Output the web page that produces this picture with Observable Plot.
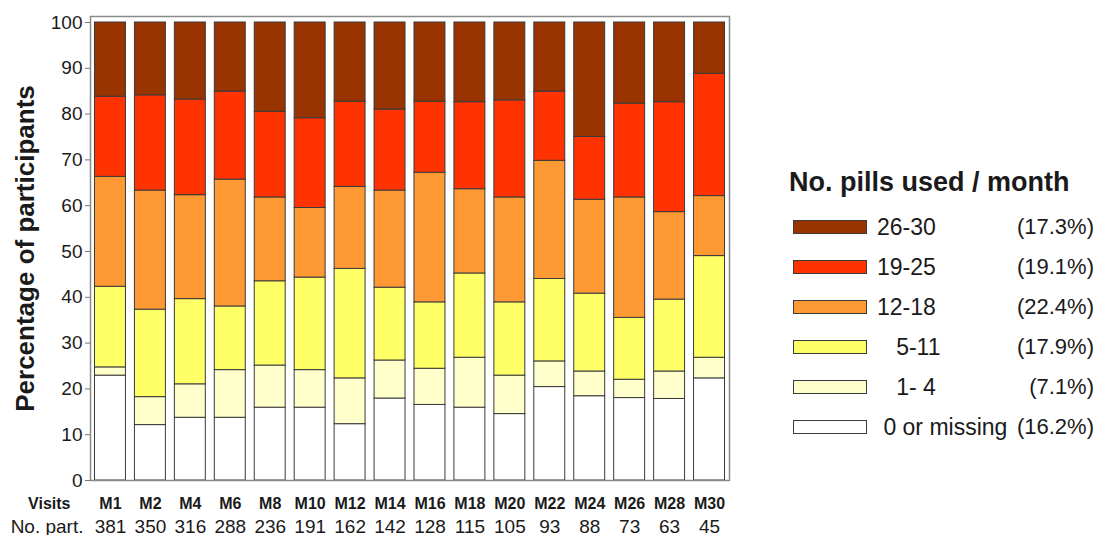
<!DOCTYPE html>
<html>
<head>
<meta charset="utf-8">
<script src="https://cdn.jsdelivr.net/npm/d3@7"></script>
<script src="https://cdn.jsdelivr.net/npm/@observablehq/plot@0.6"></script>
<style>
  html, body { margin: 0; padding: 0; background: #fff; }
  #wrap { position: relative; width: 1101px; height: 535px; font-family: "Liberation Sans", Arial, sans-serif; color: #1a1a1a; }
  #chart { position: absolute; left: 0; top: 0; }
  #legend { position: absolute; left: 0; top: 0; width: 1101px; height: 535px; pointer-events: none; }
  .ltitle { position: absolute; left: 789px; top: 165px; font-size: 27px; font-weight: bold; line-height: 34px; white-space: pre; }
  .lrow { position: absolute; left: 0; width: 1101px; height: 30px; }
  .sw { position: absolute; left: 793px; top: 8px; width: 72px; height: 12px; border: 1px solid #3a3a3a; }
  .lab { position: absolute; left: 877px; top: 0; font-size: 23px; line-height: 30px; white-space: pre; }
  .pct { position: absolute; right: 7px; top: 0; font-size: 22px; line-height: 30px; white-space: pre; }
</style>
</head>
<body>
<div id="wrap">
  <div id="chart"></div>
  <div id="legend"></div>
</div>
<script>
// ---- data ----
const visits = ["M1","M2","M4","M6","M8","M10","M12","M14","M16","M18","M20","M22","M24","M26","M28","M30"];
const participants = [381,350,316,288,236,191,162,142,128,115,105,93,88,73,63,45];
const categories = ["0 or missing","1- 4","5-11","12-18","19-25","26-30"];
const legendLabels = [" 0 or missing","   1- 4","   5-11","12-18","19-25","26-30"];
const legendPct = ["(16.2%)","(7.1%)","(17.9%)","(22.4%)","(19.1%)","(17.3%)"];

const pct0     = [22.9,12.1,13.7,13.7,15.9,15.9,12.3,17.9,16.5,15.9,14.5,20.4,18.4,18.0,17.8,22.3];
const pct1_4   = [1.8,6.1,7.3,10.4,9.2,8.2,10.0,8.3,7.9,10.9,8.4,5.6,5.4,4.0,6.0,4.5];
const pct5_11  = [17.6,19.1,18.6,13.9,18.4,20.2,23.9,15.9,14.5,18.4,16.0,18.0,17.0,13.5,15.7,22.2];
const pct12_18 = [24.0,26.0,22.7,27.7,18.3,15.2,17.9,21.2,28.3,18.4,22.9,25.8,20.5,26.3,19.1,13.1];
const pct19_25 = [17.5,20.8,20.9,19.2,18.7,19.6,18.6,17.7,15.5,19.0,21.2,15.1,13.7,20.5,24.0,26.7];
const pct26_30 = [16.2,15.9,16.8,15.1,19.5,20.9,17.3,19.0,17.3,17.4,17.0,15.1,25.0,17.7,17.4,11.2];

const colors = ["#ffffff","#ffffcc","#ffff66","#ff9933","#ff3300","#993300"];

// ---- build table ----
const series = [pct0, pct1_4, pct5_11, pct12_18, pct19_25, pct26_30];
const rows = visits.flatMap((v, i) => categories.map((c, k) => ({visit: v, cat: c, value: series[k][i]})));

const chart = Plot.plot({
  width: 1101,
  height: 535,
  marginLeft: 90,
  marginRight: 372,
  marginTop: 16,
  marginBottom: 55,
  style: {fontFamily: "Liberation Sans, Arial, sans-serif", color: "#1a1a1a", background: "transparent", overflow: "visible"},
  x: {domain: visits, paddingInner: 0.225, paddingOuter: 0.1125, round: false, axis: null},
  y: {domain: [0, 101.31], axis: null},
  color: {domain: categories, range: colors},
  marks: [
    Plot.barY(rows, {x: "visit", y: "value", z: "cat", fill: "cat", order: categories, stroke: "#3a3a3a", strokeWidth: 1}),
    Plot.frame({stroke: "#8a8a8a", strokeWidth: 1.5}),
    Plot.axisY({ticks: d3.range(0, 101, 10), tickSize: 5, tickPadding: 3, fontSize: 19, label: null, stroke: "#777", fill: "#1a1a1a"}),
    Plot.text(["Percentage of participants"], {frameAnchor: "left", textAnchor: "middle", lineAnchor: "middle", rotate: -90, dx: -65, fontSize: 26, fontWeight: "bold", fill: "#1a1a1a"}),
    Plot.text(visits, {x: d => d, frameAnchor: "bottom", lineAnchor: "middle", dy: 23, fontSize: 16, fontWeight: "bold", fill: "#1a1a1a"}),
    Plot.text(visits, {x: d => d, text: (d, i) => String(participants[i]), frameAnchor: "bottom", lineAnchor: "middle", dy: 46, fontSize: 19, fill: "#1a1a1a"}),
    Plot.text(["Visits"], {frameAnchor: "bottom-left", lineAnchor: "middle", dx: -20, dy: 23, textAnchor: "end", fontSize: 16, fontWeight: "bold", fill: "#1a1a1a"}),
    Plot.text(["No. part."], {frameAnchor: "bottom-left", lineAnchor: "middle", dx: -7, dy: 46, textAnchor: "end", fontSize: 19, fill: "#1a1a1a"})
  ]
});
document.getElementById("chart").appendChild(chart);

// ---- legend (top row = last category) ----
const legend = document.getElementById("legend");
const t = document.createElement("div");
t.className = "ltitle";
t.textContent = "No. pills used / month";
legend.appendChild(t);
const order = d3.range(categories.length).reverse();
order.forEach((k, r) => {
  const row = document.createElement("div");
  row.className = "lrow";
  row.style.top = (212 + r * 40) + "px";
  const sw = document.createElement("div");
  sw.className = "sw";
  sw.style.background = colors[k];
  const lab = document.createElement("div");
  lab.className = "lab";
  lab.textContent = legendLabels[k];
  const pct = document.createElement("div");
  pct.className = "pct";
  pct.textContent = legendPct[k];
  row.appendChild(sw); row.appendChild(lab); row.appendChild(pct);
  legend.appendChild(row);
});
</script>
</body>
</html>
